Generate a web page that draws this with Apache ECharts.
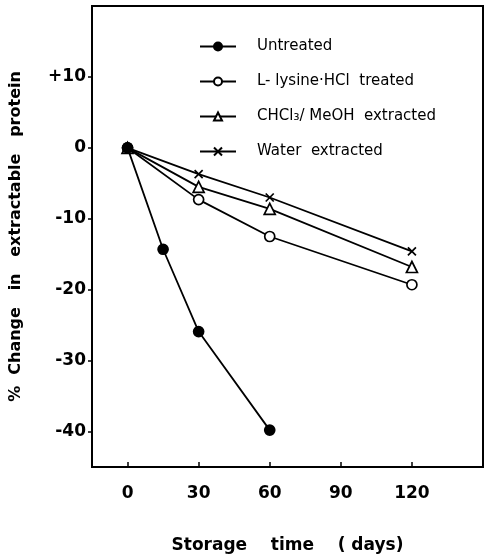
<!DOCTYPE html>
<html>
<head>
<meta charset="utf-8">
<script src="https://cdn.jsdelivr.net/npm/echarts@6/dist/echarts.min.js"></script>
<style>
  html, body { margin: 0; padding: 0; background: #fff; }
  #chart { width: 489px; height: 559px; }
</style>
</head>
<body>
<div id="chart"></div>
<script>
// storage time (days) and % change values
const untreatedDays = [0, 15, 30, 60];
const untreatedVals = [0, -14.3, -25.9, -39.8];
const otherDays = [0, 30, 60, 120];
const lysineVals = [0, -7.3, -12.5, -19.3];
const chclVals = [0, -5.5, -8.6, -16.8];
const waterVals = [0, -3.7, -7.0, -14.6];
const xTicks = [0, 30, 60, 90, 120];
const yTicks = [-40, -30, -20, -10, 0, 10];
const seriesNames = ['Untreated', 'L- lysine\u00b7HCl  treated', 'CHCl\u2083/ MeOH  extracted', 'Water  extracted'];

const font = 'DejaVu Sans';
const crossPath = 'path://M0,0L10,10M10,0L0,10';

function pairs(xs, ys) {
    return xs.map(function (x, i) { return [x, ys[i]]; });
}

function makeSeries(name, data, symbol, size, filled) {
    return {
        name: name,
        type: 'line',
        data: data,
        symbol: symbol,
        symbolSize: size,
        showAllSymbol: true,
        lineStyle: { color: '#000', width: 1.8 },
        itemStyle: {
            color: filled ? '#000' : '#fff',
            borderColor: '#000',
            borderWidth: 1.7
        },
        emphasis: { disabled: true },
        z: filled ? 3 : 2
    };
}

var chart = echarts.init(document.getElementById('chart'));

var option = {
    backgroundColor: '#fff',
    animation: false,
    grid: {
        left: 92, right: 6, top: 6, bottom: 90,
        show: true, borderColor: '#000', borderWidth: 2
    },
    legend: {
        orient: 'vertical',
        left: 194,
        top: 34,
        itemGap: 20,
        itemWidth: 36,
        itemHeight: 10,
        data: seriesNames,
        textStyle: { fontFamily: font, fontSize: 15, color: '#000', padding: [0, 0, 0, 16] },
        selectedMode: false
    },
    xAxis: {
        type: 'value',
        min: -15,
        max: 150,
        name: 'Storage    time    ( days)',
        nameLocation: 'middle',
        nameGap: 70,
        nameTextStyle: { fontFamily: font, fontSize: 17, fontWeight: 'bold', color: '#000' },
        axisLine: { show: true, onZero: false, lineStyle: { color: '#000', width: 2 } },
        axisTick: { show: true, inside: true, length: 5, customValues: xTicks, lineStyle: { color: '#000', width: 1.5 } },
        axisLabel: { customValues: xTicks, margin: 18, fontFamily: font, fontSize: 17, fontWeight: 'bold', color: '#000' },
        splitLine: { show: false }
    },
    yAxis: {
        type: 'value',
        min: -45,
        max: 20,
        name: '%  Change   in   extractable   protein',
        nameLocation: 'middle',
        nameGap: 68,
        nameTextStyle: { fontFamily: font, fontSize: 16, fontWeight: 'bold', color: '#000' },
        axisLine: { show: true, onZero: false, lineStyle: { color: '#000', width: 2 } },
        axisTick: { show: true, length: 4, customValues: yTicks, lineStyle: { color: '#000', width: 1.5 } },
        axisLabel: {
            customValues: yTicks, margin: 6, fontFamily: font, fontSize: 17, fontWeight: 'bold', color: '#000',
            formatter: function (v) { return v > 0 ? '+' + v : String(v); }
        },
        splitLine: { show: false }
    },
    series: [
        makeSeries(seriesNames[0], pairs(untreatedDays, untreatedVals), 'circle', 10, true),
        makeSeries(seriesNames[1], pairs(otherDays, lysineVals), 'circle', 10, false),
        makeSeries(seriesNames[2], pairs(otherDays, chclVals), 'triangle', 11, false),
        makeSeries(seriesNames[3], pairs(otherDays, waterVals), crossPath, 8, false)
    ]
};

chart.setOption(option);
</script>
</body>
</html>
